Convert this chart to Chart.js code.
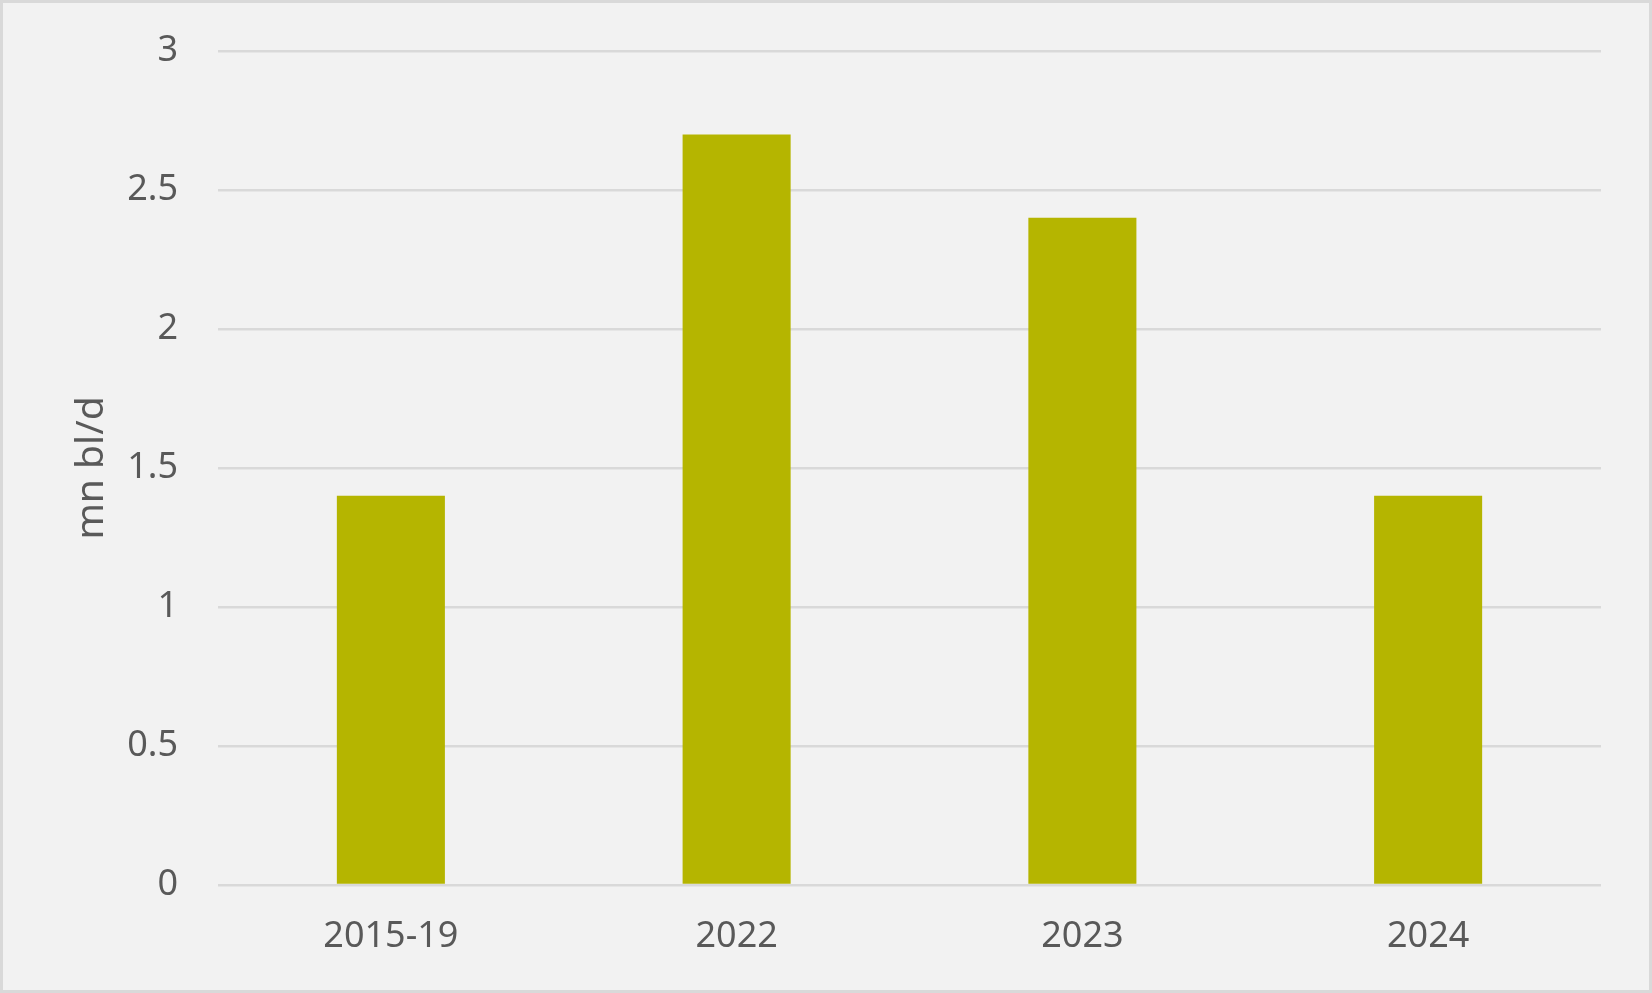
<!DOCTYPE html>
<html>
<head>
<meta charset="utf-8">
<script src="https://cdn.jsdelivr.net/npm/chart.js@4/dist/chart.umd.min.js"></script>
<style>
html,body{margin:0;padding:0;background:#f2f2f2}
#wrap{width:1652px;height:993px;position:relative}
</style>
</head>
<body>
<div id="wrap"><canvas id="c" width="1652" height="993"></canvas></div>
<script>
const categories=["2015-19","2022","2023","2024"]
const values=[1.4,2.7,2.4,1.4]
const yMin=0
const yMax=3
const yStep=0.5
const yTitle="mn bl/d"

const frame={
id:"frame",
beforeDraw(chart){
let ctx=chart.ctx
ctx.save()
ctx.fillStyle="#f2f2f2"
ctx.fillRect(0,0,chart.width,chart.height)
ctx.strokeStyle="#d9d9d9"
ctx.lineWidth=3
ctx.strokeRect(1.5,1.5,chart.width-3,chart.height-3)
ctx.restore()
}
}

new Chart(document.getElementById("c"),{
type:"bar",
data:{
labels:categories,
datasets:[{data:values,backgroundColor:"#b5b500",categoryPercentage:1,barPercentage:0.3125}]
},
options:{
responsive:false,
animation:false,
devicePixelRatio:1,
layout:{padding:{top:51,right:51,left:0,bottom:0}},
plugins:{legend:{display:false},tooltip:{enabled:false}},
scales:{
x:{
grid:{display:false,drawTicks:false},
border:{display:false},
ticks:{color:"#595959",font:{family:"Noto Sans",size:36},padding:30},
afterFit(s){s.height=108}
},
y:{
min:yMin,max:yMax,
// long invisible tick marks keep the labels away from the grid without the extra top padding
grid:{color:"#d9d9d9",lineWidth:2.5,drawTicks:true,tickLength:40,tickColor:"rgba(0,0,0,0)"},
border:{display:false},
ticks:{stepSize:yStep,color:"#595959",font:{family:"Noto Sans",size:36},padding:0,callback:v=>String(v)},
title:{display:true,text:yTitle,color:"#595959",font:{family:"Noto Sans",size:39},padding:{top:68,bottom:0}},
afterFit(s){s.width=218}
}
}
},
plugins:[frame]
})
</script>
</body>
</html>
